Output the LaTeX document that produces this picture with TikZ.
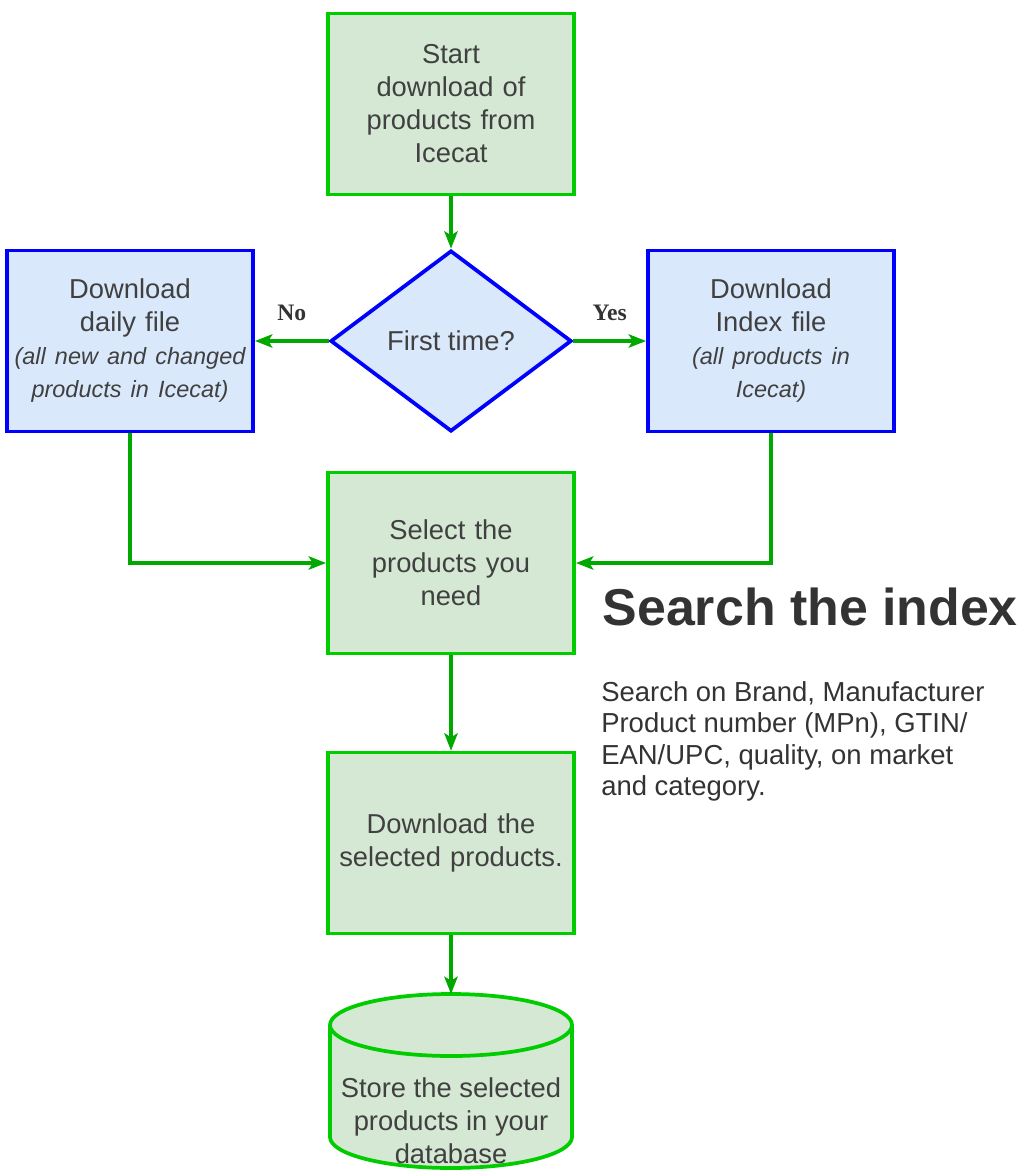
\documentclass[tikz,border=0pt]{standalone}
\usepackage{fontspec}
\setmainfont{Liberation Sans}
\newfontfamily\labelfont{Liberation Serif}
\usetikzlibrary{shapes.geometric,arrows.meta}

\definecolor{boxgreen}{HTML}{00CC00}
\definecolor{fillgreen}{HTML}{D5E8D4}
\definecolor{boxblue}{HTML}{0000FF}
\definecolor{fillblue}{HTML}{DAE8FC}
\definecolor{linegreen}{HTML}{00A800}
\definecolor{txtgray}{HTML}{404040}
\newcommand\notefont{\fontsize{17.6}{24.75}\selectfont\itshape}

\begin{document}
\begin{tikzpicture}[x=0.75pt,y=-0.75pt,
    every node/.style={text=txtgray,font=\fontsize{20.5}{24.75}\selectfont},
    greenbox/.style={draw=boxgreen,fill=fillgreen,line width=2.8pt,
      minimum width=181.5pt,minimum height=135.75pt,text width=178pt,align=center},
    bluebox/.style={greenbox,draw=boxblue,fill=fillblue},
    yesno/.style={above=11pt,text=black!80,font=\labelfont\fontsize{17.7}{20}\selectfont\bfseries},
    flow/.style={draw=linegreen,line width=2.4pt,-{Stealth[length=13pt,width=10pt,inset=3pt]}}]
  \useasboundingbox (0,0) rectangle (1021,1171);

  \node[greenbox] (start) at (451,104) {Start\\download of\\products from\\Icecat};
  \node[diamond,draw=boxblue,fill=fillblue,line width=2.8pt,inner sep=0pt,
    minimum width=180.75pt,minimum height=135.75pt] (first) at (451,341) {First time?};
  \node[bluebox] (daily) at (130,341)
    {Download\\daily file\\{\notefont (all new and changed\\products in Icecat)}};
  \node[bluebox] (index) at (771,341)
    {Download\\Index file\\{\notefont (all products in\\Icecat)}};
  \node[greenbox] (select) at (451,563) {Select the\\products you\\need};
  \node[greenbox] (fetch) at (451,843) {Download the\\selected products.};

  % database cylinder
  \draw[draw=boxgreen,fill=fillgreen,line width=2.8pt]
    (330,1025) -- (330,1137) arc[start angle=180,end angle=0,x radius=121,y radius=31]
    -- (572,1025) arc[start angle=0,end angle=-180,x radius=121,y radius=31] -- cycle;
  \draw[draw=boxgreen,line width=2.8pt]
    (330,1025) arc[start angle=180,end angle=0,x radius=121,y radius=31];
  \coordinate (storetop) at (451,994);
  \node[align=center] (store) at (451,1121)
    {Store the selected\\products in your\\database};

  \node[anchor=west,font=\fontsize{38.9}{44}\selectfont\bfseries,text=black!80]
    (title) at (598,607) {Search the index};
  \node[anchor=north west,align=left,inner sep=0pt,
    font=\fontsize{20.6}{23.6}\selectfont,text=black!80] (body) at (601,681)
    {Search on Brand, Manufacturer\\Product number (MPn), GTIN/\\EAN/UPC, quality, on market\\and category.};

  % connectors
  \draw[flow] (start) -- (first);
  \draw[flow] (first) -- node[yesno] {No} (daily);
  \draw[flow] (first) -- node[yesno] {Yes} (index);
  \draw[flow] (daily.south) |- (select.west);
  \draw[flow] (index.south) |- (select.east);
  \draw[flow] (select) -- (fetch);
  \draw[flow] (fetch) -- (storetop);
\end{tikzpicture}
\end{document}
